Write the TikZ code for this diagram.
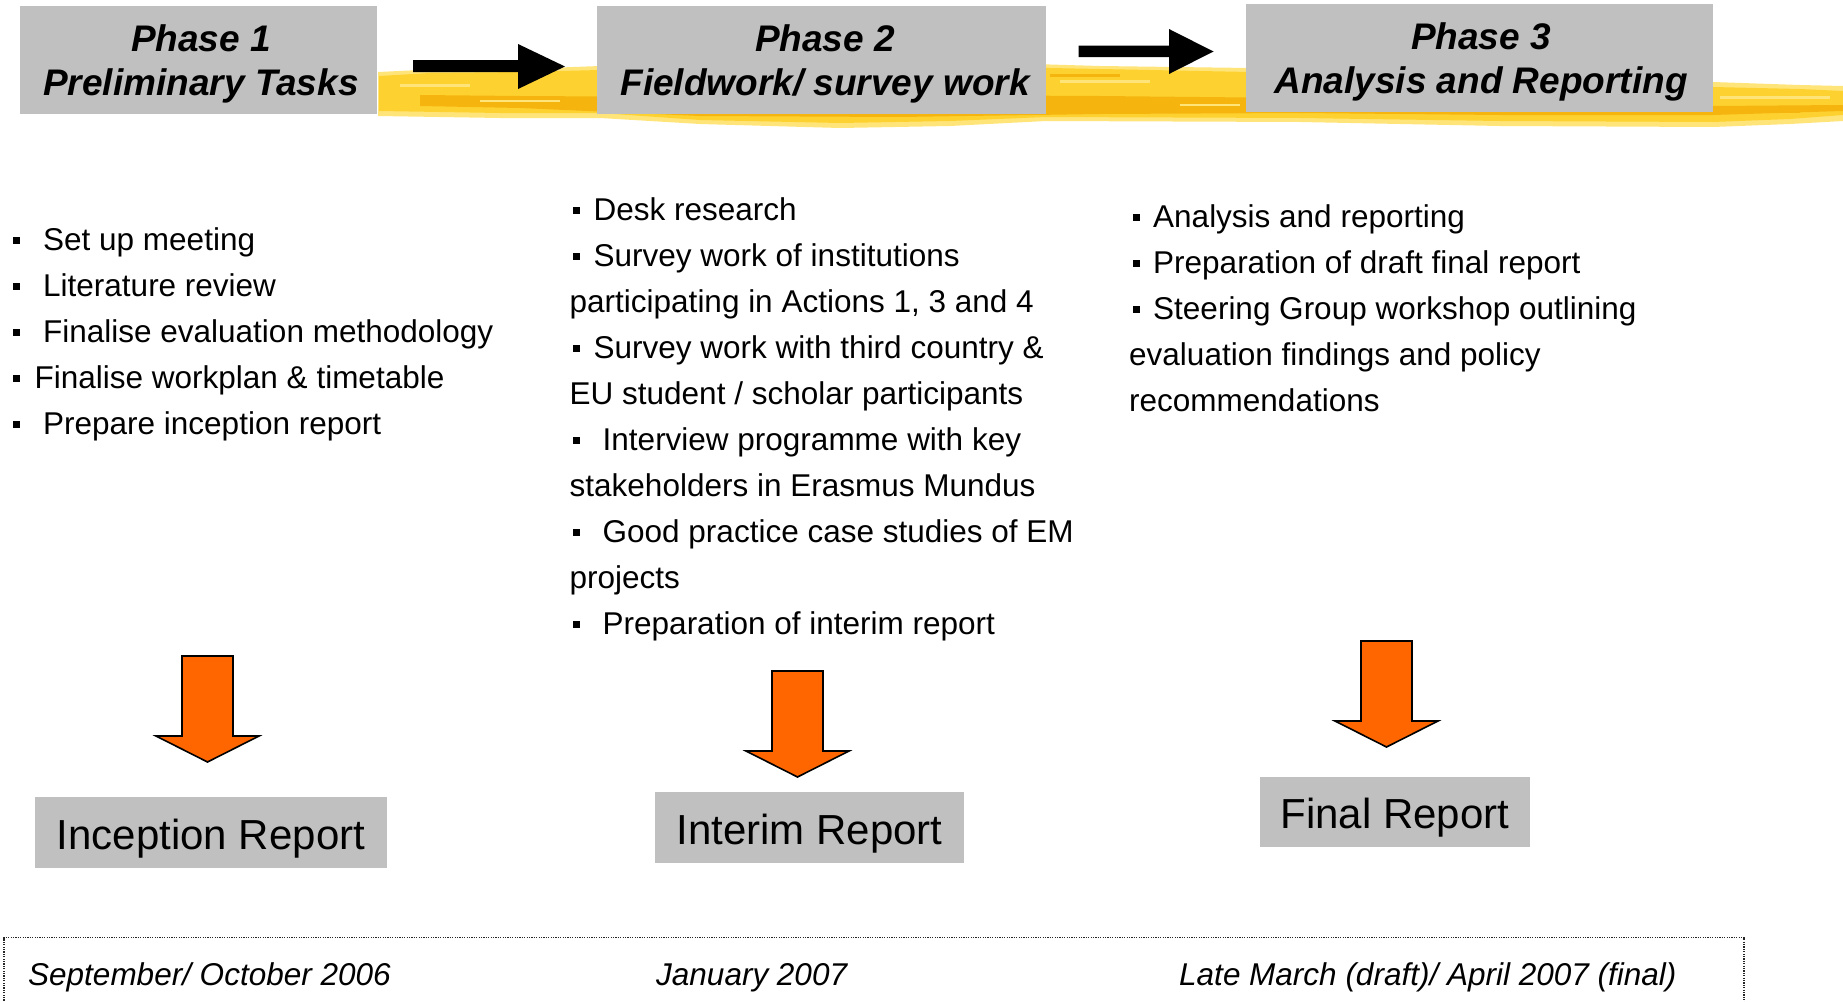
\documentclass[tikz,border=0pt]{standalone}
\usepackage{fontspec}
\setmainfont{Liberation Sans}
\definecolor{boxgray}{HTML}{C0C0C0}
\definecolor{hlmain}{HTML}{FDD230}
\definecolor{hllight}{HTML}{FFE47A}
\definecolor{hldark}{HTML}{F6B40E}
\definecolor{arroworange}{HTML}{FF6600}
\begin{document}
\begin{tikzpicture}[x=1pt,y=-1pt,
  phasebox/.style={fill=boxgray, inner sep=0pt, outer sep=0pt},
  phasetxt/.style={font=\fontsize{37}{44}\selectfont\bfseries\itshape, inner sep=0pt, anchor=base},
  bodytxt/.style={font=\fontsize{31.5}{46}\selectfont, inner sep=0pt, anchor=base west},
  bul/.style={fill=black, minimum size=7pt, inner sep=0pt},
  reportbox/.style={fill=boxgray, inner sep=0pt, outer sep=0pt, font=\fontsize{42}{50}\selectfont, text height=42pt, text depth=9pt},
  datetxt/.style={font=\fontsize{31.5}{38}\selectfont\itshape, inner sep=0pt, anchor=base west},
  blockarrow/.style={fill=arroworange, draw=black, line width=1.6pt, line join=miter},
  blackarrow/.style={fill=black}]
\useasboundingbox (0,0) rectangle (1843,1001);

% ---- yellow highlighter stroke ----
\fill[hllight] (378,72) -- (420,70) -- (520,69) -- (600,66) -- (800,64) -- (1000,63) -- (1100,66) -- (1250,68) -- (1450,74) -- (1713,82) -- (1800,85) -- (1843,86)
  -- (1843,121) -- (1790,124) -- (1713,127) -- (1500,126) -- (1300,122) -- (1046,121) -- (950,126) -- (840,128) -- (700,124) -- (600,118) -- (500,118) -- (378,116) -- cycle;
\fill[hlmain] (379,76) -- (430,73) -- (520,72) -- (600,70) -- (800,68) -- (1000,67) -- (1100,69) -- (1250,72) -- (1450,78) -- (1713,87) -- (1800,89) -- (1843,91)
  -- (1843,115) -- (1790,119) -- (1713,122) -- (1500,121) -- (1300,118) -- (1046,117) -- (950,121) -- (840,123) -- (700,120) -- (600,113) -- (500,113) -- (379,111) -- cycle;
\fill[hldark] (420,95) -- (520,96) -- (700,97) -- (900,95) -- (1100,96) -- (1300,98) -- (1500,102) -- (1713,106) -- (1843,105)
  -- (1843,111) -- (1713,115) -- (1500,115) -- (1300,113) -- (1100,114) -- (900,117) -- (700,116) -- (520,108) -- (420,106) -- cycle;
\fill[hllight] (400,84) rectangle (470,87);
\fill[hllight] (480,100) rectangle (560,102);
\fill[hllight] (1060,80) rectangle (1150,83);
\fill[hllight] (1180,104) rectangle (1240,106);
\fill[hllight] (1720,96) rectangle (1830,99);
\fill[hldark] (1050,74) rectangle (1120,77);
\fill[hldark] (1730,110) rectangle (1800,113);

% ---- phase boxes ----
\node[phasebox, minimum width=357pt, minimum height=108pt] (p1) at (198.5,60) {};
\node[phasebox, minimum width=449pt, minimum height=108pt] (p2) at (821.5,60) {};
\node[phasebox, minimum width=467pt, minimum height=108pt] (p3) at (1479.5,58) {};
\node[phasetxt] (p1a) at (201,51) {Phase 1};
\node[phasetxt] (p1b) at (201,95) {Preliminary Tasks};
\node[phasetxt] (p2a) at (825,51) {Phase 2};
\node[phasetxt] (p2b) at (825,95) {Fieldwork/ survey work};
\node[phasetxt] (p3a) at (1481,49) {Phase 3};
\node[phasetxt] (p3b) at (1481,93) {Analysis and Reporting};

% ---- black arrows between phases ----
\fill[blackarrow] (413,60) -- (518,60) -- (518,44) -- (565,66.5) -- (518,89) -- (518,72) -- (413,72) -- cycle;
\fill[blackarrow] (1078.5,45.5) -- (1169,45.5) -- (1169,29) -- (1213.5,51.5) -- (1169,74) -- (1169,57) -- (1078.5,57) -- cycle;

% ---- column 1 ----
\node[bul] (c1b1) at (16.5,240.7) {};
\node[bodytxt] (c1t1) at (43,250.7) {Set up meeting};
\node[bul] (c1b2) at (16.5,286.7) {};
\node[bodytxt] (c1t2) at (43,296.7) {Literature review};
\node[bul] (c1b3) at (16.5,332.7) {};
\node[bodytxt] (c1t3) at (43,342.7) {Finalise evaluation methodology};
\node[bul] (c1b4) at (16.5,378.7) {};
\node[bodytxt] (c1t4) at (34.5,388.7) {Finalise workplan \& timetable};
\node[bul] (c1b5) at (16.5,424.7) {};
\node[bodytxt] (c1t5) at (43,434.7) {Prepare inception report};

% ---- column 2 ----
\node[bul] (c2b1) at (576,210.5) {};
\node[bodytxt] (c2t1) at (593.5,220.5) {Desk research};
\node[bul] (c2b2) at (576,256.5) {};
\node[bodytxt] (c2t2) at (593.5,266.5) {Survey work of institutions};
\node[bodytxt] (c2t3) at (569.5,312.5) {participating in Actions 1, 3 and 4};
\node[bul] (c2b4) at (576,348.5) {};
\node[bodytxt] (c2t4) at (593.5,358.5) {Survey work with third country \&};
\node[bodytxt] (c2t5) at (569.5,404.5) {EU student / scholar participants};
\node[bul] (c2b6) at (576,440.5) {};
\node[bodytxt] (c2t6) at (602.5,450.5) {Interview programme with key};
\node[bodytxt] (c2t7) at (569.5,496.5) {stakeholders in Erasmus Mundus};
\node[bul] (c2b8) at (576,532.5) {};
\node[bodytxt] (c2t8) at (602.5,542.5) {Good practice case studies of EM};
\node[bodytxt] (c2t9) at (569.5,588.5) {projects};
\node[bul] (c2b10) at (576,624.5) {};
\node[bodytxt] (c2t10) at (602.5,634.5) {Preparation of interim report};

% ---- column 3 ----
\node[bul] (c3b1) at (1136,217) {};
\node[bodytxt] (c3t1) at (1153,227) {Analysis and reporting};
\node[bul] (c3b2) at (1136,263) {};
\node[bodytxt] (c3t2) at (1153,273) {Preparation of draft final report};
\node[bul] (c3b3) at (1136,309) {};
\node[bodytxt] (c3t3) at (1153,319) {Steering Group workshop outlining};
\node[bodytxt] (c3t4) at (1129,365) {evaluation findings and policy};
\node[bodytxt] (c3t5) at (1129,411) {recommendations};

% ---- orange down arrows ----
\filldraw[blockarrow] (182,656) -- (233,656) -- (233,736) -- (259,736) -- (207.5,762) -- (156,736) -- (182,736) -- cycle;
\filldraw[blockarrow] (772,671) -- (823,671) -- (823,751) -- (849,751) -- (797.5,777) -- (746,751) -- (772,751) -- cycle;
\filldraw[blockarrow] (1361,641) -- (1412,641) -- (1412,721) -- (1438,721) -- (1386.5,747) -- (1335,721) -- (1361,721) -- cycle;

% ---- report boxes ----
\node[reportbox, minimum width=352pt, minimum height=71pt] (r1) at (211,832.5) {Inception Report};
\node[reportbox, minimum width=309pt, minimum height=71pt] (r2) at (809.5,827.5) {Interim Report};
\node[reportbox, minimum width=270pt, minimum height=70pt] (r3) at (1395,812) {Final Report};

% ---- timeline frame ----
\coordinate (fbl) at (4,1003);
\coordinate (ftl) at (4,937.5);
\coordinate (ftr) at (1744,937.5);
\coordinate (fbr) at (1744,1003);
\draw[black!85, line width=1.2pt, dash pattern=on 1.2pt off 1.2pt] (fbl) -- (ftl) -- (ftr) -- (fbr);
\node[datetxt] (d1) at (28,985) {September/ October 2006};
\node[datetxt] (d2) at (656,985) {January 2007};
\node[datetxt] (d3) at (1179,985) {Late March (draft)/ April 2007 (final)};
\end{tikzpicture}
\end{document}
